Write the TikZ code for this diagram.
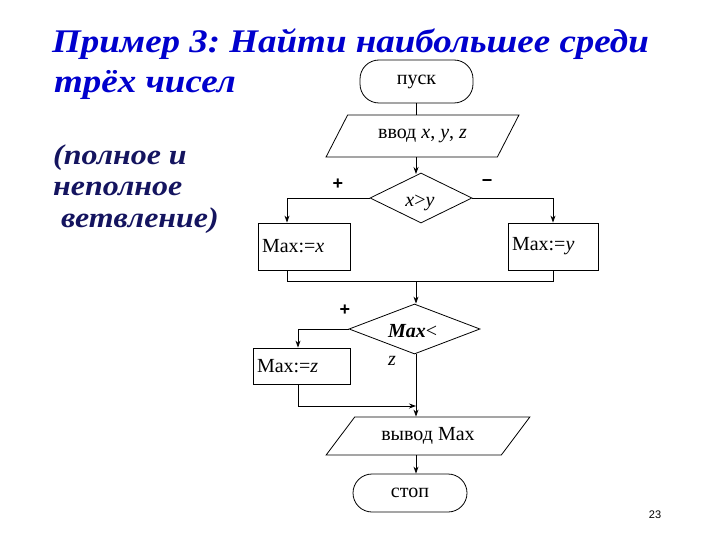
\documentclass[tikz,border=0pt]{standalone}
\usepackage{fontspec}
\setmainfont{Liberation Serif}
\newfontfamily\sansf{Liberation Sans}
\newfontfamily\widef[FakeStretch=1.12]{Liberation Serif}
\usetikzlibrary{shapes.geometric,arrows.meta}
\definecolor{titleblue}{RGB}{0,0,205}
\definecolor{navy}{RGB}{20,20,95}
\frenchspacing
\begin{document}
\begin{tikzpicture}[x=1pt,y=-1pt,
  every node/.style={font=\fontsize{20}{22}\selectfont},
  ln/.style={line width=0.8pt,black},
  arr/.style={ln,-{Stealth[length=7pt,width=5pt]}},
  term/.style={draw,line width=0.8pt,rounded corners=19pt,inner sep=0pt},
  procbox/.style={draw,line width=0.8pt,inner sep=4pt,align=left},
  iobox/.style={draw,line width=0.8pt,trapezium,trapezium stretches=true,inner sep=0pt},
  decision/.style={draw,line width=0.8pt,diamond,inner sep=0pt,aspect=2},
  sign/.style={font=\sansf\fontsize{18}{20}\selectfont\bfseries},
  ttl/.style={font=\widef\fontsize{33}{34}\selectfont\bfseries\itshape,text=titleblue,inner sep=0pt,anchor=base west},
  sub/.style={font=\widef\fontsize{28.5}{30}\selectfont\bfseries\itshape,text=navy,inner sep=0pt,anchor=base west}]
\useasboundingbox (0,0) rectangle (720,540);
% title
\node[ttl] (t1) at (52,53) {Пример 3: Найти наибольшее среди};
\node[ttl] (t2) at (54,93) {трёх чисел};
\node[sub] (s1) at (53,165) {(полное и};
\node[sub] (s2) at (53,196) {неполное};
\node[sub] (s3) at (53,227) {\ ветвление)};
% flowchart
\node[term,minimum width=113pt,minimum height=43pt] (start) at (416.5,81.5) {пуск};
\node[iobox,trapezium left angle=47,trapezium right angle=133,minimum width=193pt,minimum height=42pt] (in1) at (422.5,136) {ввод \textit{x}, \textit{y}, \textit{z}};
\node[decision,minimum width=102pt,minimum height=50pt] (d1) at (421,198) {};
\node (d1t) at (420,203) {\textit{x}>\textit{y}};
\node[procbox,minimum width=92pt,minimum height=47pt,text width=84pt] (bx) at (304,246.5) {Max:=\textit{x}};
\node[procbox,minimum width=90pt,minimum height=47pt,text width=82pt] (by) at (553,246.5) {Max:=\textit{y}};
\node[decision,minimum width=131pt,minimum height=50pt] (d2) at (414.5,329) {};
\node[inner sep=0pt,anchor=north west,align=left] (d2t) at (388,324) {\textbf{\textit{Max}}<\\[6pt]\textit{z}};
\node[procbox,minimum width=97pt,minimum height=36pt,text width=89pt] (bz) at (301.5,366) {Max:=\textit{z}};
\node[iobox,trapezium left angle=43,trapezium right angle=137,minimum width=204pt,minimum height=38pt] (out) at (428,436) {вывод Max};
\node[term,minimum width=114pt,minimum height=38pt] (stop) at (410,493) {стоп};
% signs
\node[sign] (p1) at (338,184) {+};
\node[sign] (m1) at (487,183) {\textminus};
\node[sign] (p2) at (345,310) {+};
\node[font=\sansf\fontsize{11}{12}\selectfont] (pg) at (655,515) {23};
% coordinates
\coordinate (col) at (416,0);
\coordinate (xl) at (287,0);
\coordinate (jl) at (287,281);
\coordinate (jr) at (553,281);
\coordinate (zl) at (298,0);
\coordinate (zj) at (298,406);
% connectors
\draw[ln] (start.south -| col) -- (col |- in1.north);
\draw[arr] (col |- in1.south) -- (416,174);
\draw[arr] (d1.west) -- (xl |- d1.west) -- (xl |- bx.north);
\draw[arr] (d1.east) -| (by.north);
\draw[ln] (xl |- bx.south) -- (jl) -- (jr) -- (by.south);
\draw[arr] (col |- jl) -- (col |- d2.north);
\draw[arr] (d2.west) -- (zl |- d2.west) -- (zl |- bz.north);
\draw[arr] (zl |- bz.south) -- (zj) -- (col |- zj);
\draw[arr] (col |- d2.south) -- (col |- out.north);
\draw[arr] (col |- out.south) -- (col |- stop.north);
\end{tikzpicture}
\end{document}
